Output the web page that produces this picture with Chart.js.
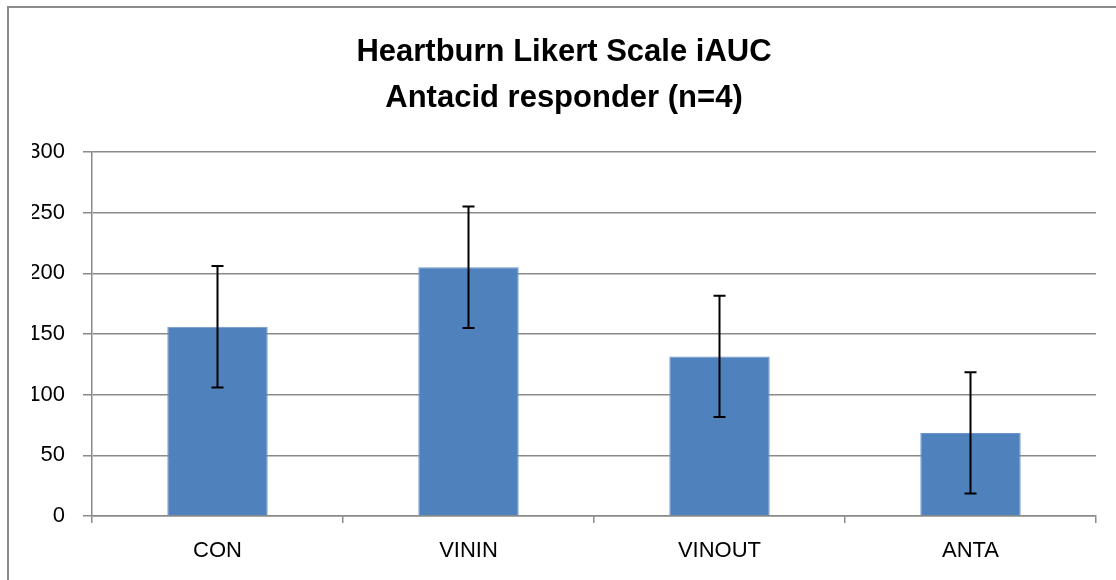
<!DOCTYPE html>
<html>
<head>
<meta charset="utf-8">
<script src="https://cdn.jsdelivr.net/npm/chart.js@4"></script>
<style>
  html, body { margin: 0; padding: 0; background: #fff; }
  #wrap { width: 1116px; height: 580px; }
</style>
</head>
<body>
<div id="wrap"><canvas id="heartburnChart" width="1116" height="580"></canvas></div>
<script>
const categories = ['CON', 'VININ', 'VINOUT', 'ANTA'];
const iaucMeans = [156, 205, 131.5, 68.5];
const iaucErrors = [50, 50, 50, 50];
const yTicks = [0, 50, 100, 150, 200, 250, 300];

const gridGray = '#8a8a8a';

// error bars drawn from the scales, Excel style (vertical line + caps)
const errorBars = {
  id: 'errorBars',
  afterDatasetsDraw(chart) {
    const ctx = chart.ctx;
    const y = chart.scales.y;
    const meta = chart.getDatasetMeta(0);
    ctx.save();
    ctx.strokeStyle = '#000';
    ctx.lineWidth = 2;
    meta.data.forEach((bar, i) => {
      const top = y.getPixelForValue(iaucMeans[i] + iaucErrors[i]);
      const bot = y.getPixelForValue(iaucMeans[i] - iaucErrors[i]);
      ctx.beginPath();
      ctx.moveTo(bar.x, top); ctx.lineTo(bar.x, bot);
      ctx.moveTo(bar.x - 6, top); ctx.lineTo(bar.x + 6, top);
      ctx.moveTo(bar.x - 6, bot); ctx.lineTo(bar.x + 6, bot);
      ctx.stroke();
    });
    ctx.restore();
  }
};

// outer chart frame (cut off on the right and bottom like the original)
const frame = {
  id: 'frame',
  afterDraw(chart) {
    const ctx = chart.ctx;
    ctx.save();
    ctx.strokeStyle = '#8c8c8c';
    ctx.lineWidth = 2;
    ctx.strokeRect(8, 7, 1200, 700);
    ctx.restore();
  }
};

const ctx = document.getElementById('heartburnChart').getContext('2d');
new Chart(ctx, {
  type: 'bar',
  data: {
    labels: categories,
    datasets: [{
      label: 'iAUC',
      data: iaucMeans,
      backgroundColor: '#4f81bd',
      borderColor: '#6f96c8',
      borderWidth: 1,
      categoryPercentage: 0.4,
      barPercentage: 1.0
    }]
  },
  options: {
    responsive: false,
    animation: false,
    // left padding shifts the title centre to match the original
    layout: { padding: { top: 0, right: 20, bottom: 0, left: 32 } },
    plugins: {
      legend: { display: false },
      tooltip: { enabled: false },
      title: {
        display: true,
        text: ['Heartburn Likert Scale iAUC', 'Antacid responder (n=4)'],
        color: '#000',
        font: { family: 'Liberation Sans', size: 31, weight: 'bold', lineHeight: '46px' },
        padding: { top: 29, bottom: 31 }
      }
    },
    scales: {
      x: {
        grid: { offset: true, drawOnChartArea: false, drawTicks: true, tickLength: 7, color: gridGray, lineWidth: 1.5 },
        border: { display: true, color: gridGray, width: 1.5 },
        ticks: { color: '#000', padding: 15, font: { family: 'Liberation Sans', size: 22 } },
        afterFit(scale) { scale.height = 64; }
      },
      y: {
        min: 0,
        max: 300,
        afterBuildTicks(scale) { scale.ticks = yTicks.map(v => ({ value: v })); },
        grid: { color: gridGray, lineWidth: 1.5, tickLength: 9 },
        border: { display: true, color: gridGray, width: 1.5 },
        ticks: { color: '#000', padding: 18, font: { family: 'Liberation Sans', size: 22 } },
        afterFit(scale) { scale.width = 60; }
      }
    }
  },
  plugins: [errorBars, frame]
});
</script>
</body>
</html>
